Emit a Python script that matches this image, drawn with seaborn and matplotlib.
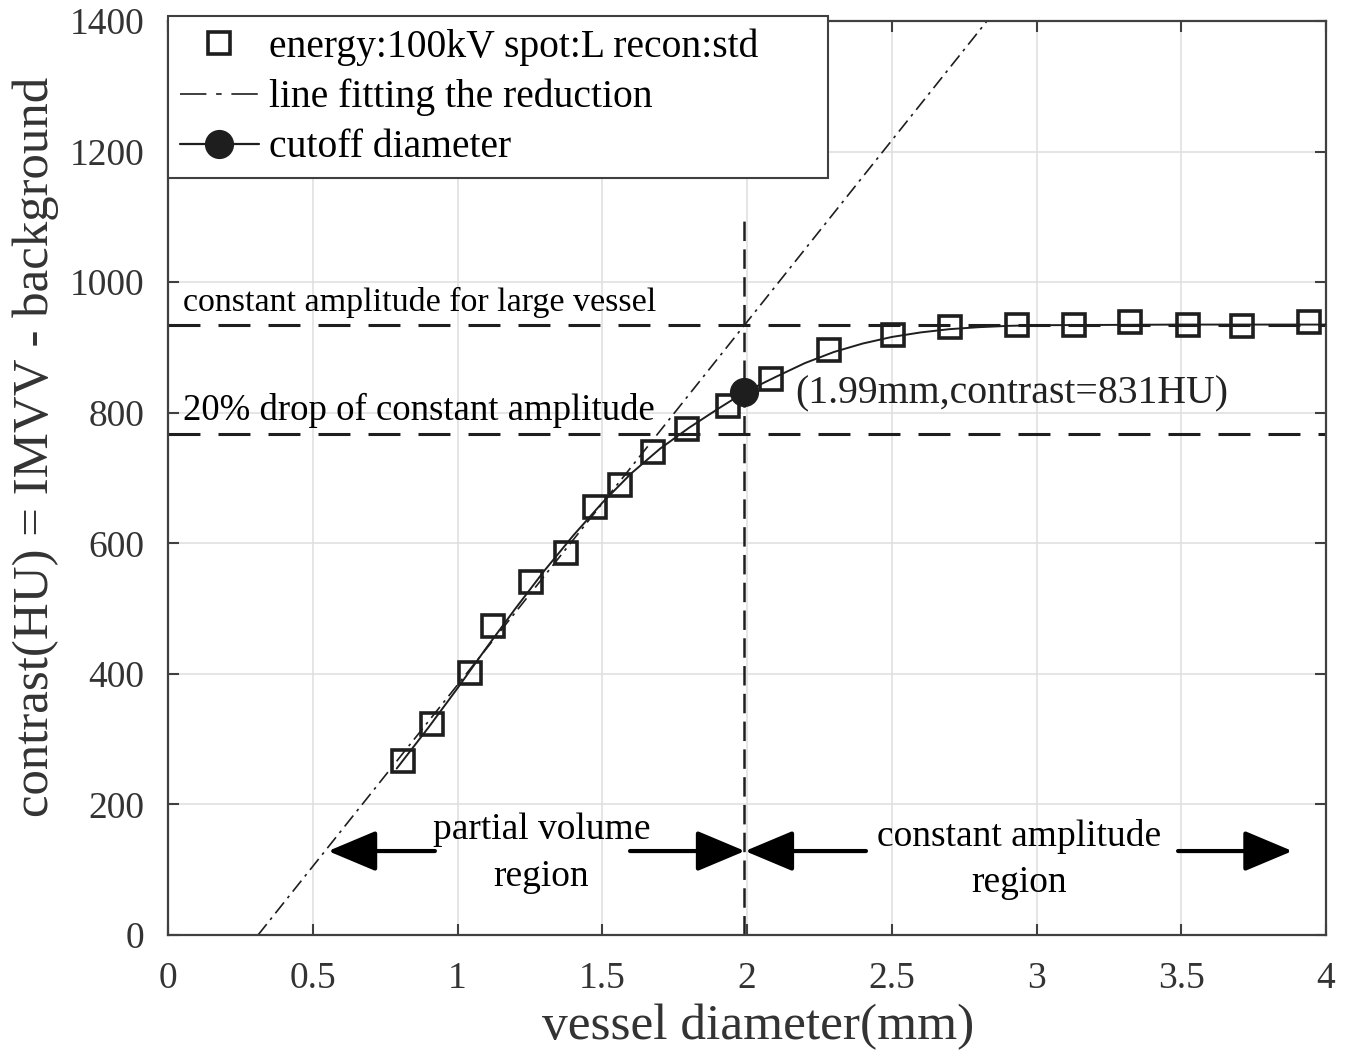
import numpy as np
import pandas as pd
import matplotlib
matplotlib.use("Agg")
import matplotlib.pyplot as plt
from matplotlib.lines import Line2D
import seaborn as sns

# ---------------- data ----------------
diam = [0.813, 0.913, 1.043, 1.124, 1.254, 1.374, 1.475, 1.561, 1.674, 1.792, 1.933,
        2.082, 2.283, 2.503, 2.701, 2.932, 3.131, 3.323, 3.522, 3.711, 3.942]
contrast = [266, 323, 401, 474, 540, 585, 655, 690, 740, 775, 810,
            851, 896, 919, 932, 935, 935, 939, 935, 933, 939]

# smooth fitted curve
curve_x = [0.79, 0.90, 1.00, 1.10, 1.20, 1.30, 1.40, 1.50, 1.60, 1.70, 1.80, 1.90, 1.99,
           2.10, 2.20, 2.30, 2.40, 2.50, 2.60, 2.70, 2.80, 2.90, 3.00, 3.50, 4.00]
curve_y = [255, 318, 378, 440, 500, 558, 612, 662, 707, 745, 777, 806, 831,
           855, 876, 893, 906, 916, 923, 928, 931, 933, 934, 935, 935]

fit_x0 = 0.311      # x-intercept of the reduction line
fit_slope = 556     # HU per mm
const_amp = 934
drop_amp = 767
cut_x, cut_y = 1.99, 831
cut_line_top = 1104

x_ticks = [0, 0.5, 1, 1.5, 2, 2.5, 3, 3.5, 4]
x_tick_labels = ["0", "0.5", "1", "1.5", "2", "2.5", "3", "3.5", "4"]
y_ticks = [0, 200, 400, 600, 800, 1000, 1200, 1400]
y_tick_labels = [str(v) for v in y_ticks]

region_y = 128.6
region_arrows = [  # (tail, tip)
    (0.922, 0.553),
    (1.596, 1.993),
    (2.411, 1.993),
    (3.489, 3.884),
]

# ---------------- style ----------------
sns.set_theme(style="whitegrid")
plt.rcParams["font.family"] = ["Liberation Serif", "DejaVu Serif"]
plt.rcParams["lines.scale_dashes"] = False
plt.rcParams["axes.edgecolor"] = "#404040"
plt.rcParams["axes.linewidth"] = 1.6

dark = "#1e1e1e"

fig = plt.figure(figsize=(13.51, 10.57), dpi=100)
ax = fig.add_axes([168 / 1351, 1 - 935 / 1057, (1326 - 168) / 1351, (935 - 21) / 1057])

ax.set_xlim(0, 4)
ax.set_ylim(0, 1400)
ax.grid(True, color="#e0e0e0", linewidth=1.2)
ax.set_axisbelow(True)
for s in ax.spines.values():
    s.set_visible(True)
    s.set_color("#404040")
    s.set_linewidth(1.6)

# horizontal reference lines
ax.axhline(const_amp, color=dark, lw=2.2, dashes=(23, 13), zorder=2)
ax.axhline(drop_amp, color=dark, lw=2.2, dashes=(23, 13), zorder=2)

# fitted reduction line
ax.axline((fit_x0, 0), slope=fit_slope, color=dark, lw=1.2, dashes=(10, 4, 2, 4), zorder=2)

# vertical cutoff line
ax.plot([cut_x, cut_x], [0, cut_line_top], color=dark, lw=1.8, dashes=(14, 6), zorder=2)

# fitted curve
curve_df = pd.DataFrame({"x": curve_x, "y": curve_y})
sns.lineplot(data=curve_df, x="x", y="y", ax=ax, color=dark, lw=1.4, sort=False,
             estimator=None, errorbar=None, zorder=3)

# data points
df = pd.DataFrame({"d": diam, "c": contrast})
sns.lineplot(data=df, x="d", y="c", ax=ax, linestyle="none", marker="s", markersize=15.5,
             markerfacecolor="none", markeredgecolor=dark, markeredgewidth=2.6,
             color=dark, sort=False, estimator=None, errorbar=None, zorder=4)

# cutoff point
ax.plot([cut_x], [cut_y], marker="o", markersize=20, color=dark, linestyle="none", zorder=5)

# annotations
ax.text(0.052, 956, "constant amplitude for large vessel", fontsize=24.5, color="black",
        va="baseline", ha="left", zorder=6)
ax.text(0.052, 789, "20% drop of constant amplitude", fontsize=26.5, color="black",
        va="baseline", ha="left", zorder=6)
ax.text(2.165, 815, "(1.99mm,contrast=831HU)", fontsize=28.6, color="#222222",
        va="baseline", ha="left", zorder=6)
ax.text(1.29, 125, "partial volume\nregion", fontsize=27, ha="center", va="center",
        multialignment="center", color="black", linespacing=1.45, zorder=6)
ax.text(2.94, 116, "constant amplitude\nregion", fontsize=27, ha="center", va="center",
        multialignment="center", color="black", linespacing=1.45, zorder=6)

for tail, tip in region_arrows:
    ax.annotate("", xy=(tip, region_y), xytext=(tail, region_y),
                arrowprops=dict(arrowstyle="-|>,head_length=1.0,head_width=0.42",
                                mutation_scale=30, lw=3, color="black",
                                shrinkA=0, shrinkB=0), zorder=6)

# ticks and labels
ax.set_xticks(x_ticks)
ax.set_xticklabels(x_tick_labels)
ax.set_yticks(y_ticks)
ax.set_yticklabels(y_tick_labels)
ax.tick_params(axis="both", direction="in", length=8, width=1.5, colors="#404040",
               top=True, right=True, bottom=True, left=True)
ax.tick_params(axis="x", labelsize=27, pad=19, labelcolor="#333333")
ax.tick_params(axis="y", labelsize=27, pad=17, labelcolor="#333333")
ax.set_xlabel("vessel diameter(mm)", fontsize=37, color="#333333", labelpad=8)
ax.xaxis.set_label_coords(0.5095, -0.075)
ax.set_ylabel("contrast(HU) = IMVV - background", fontsize=36.6, color="#333333")
ax.yaxis.set_label_coords(-0.094, 0.534)

# legend
handles = [
    Line2D([], [], linestyle="none", marker="s", markersize=15.5, markerfacecolor="none",
           markeredgecolor=dark, markeredgewidth=2.6),
    Line2D([], [], color=dark, lw=1.2, dashes=(19, 7, 4, 7)),
    Line2D([], [], color=dark, lw=1.6, marker="o", markersize=20),
]
labels = ["energy:100kV spot:L recon:std", "line fitting the reduction", "cutoff diameter"]
leg = ax.legend(handles, labels, loc="upper left", bbox_to_anchor=(0, 0, 0.570, 1.005),
                mode="expand", borderaxespad=0, fontsize=28.5, frameon=True, fancybox=False,
                framealpha=1, edgecolor="#404040", handlelength=2.0, handletextpad=0.25,
                labelspacing=0.33, borderpad=0.3)
leg.get_frame().set_linewidth(1.5)
for t in leg.get_texts():
    t.set_color("black")

fig.savefig("out.png", dpi=100)
